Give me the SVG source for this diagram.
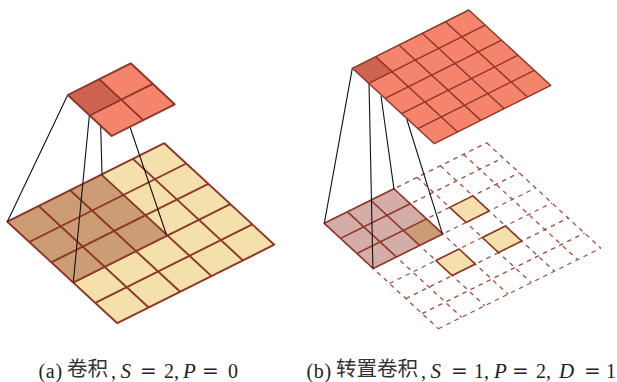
<svg xmlns="http://www.w3.org/2000/svg" width="617" height="382" viewBox="0 0 617 382">
<style>
.g{vector-effect:non-scaling-stroke;stroke:#8f3528;stroke-linejoin:round}
.n{fill:none}
.y{fill:#f3e0ab}
.s{stroke-width:1.9}
.m{stroke-width:1.6}
.t{stroke-width:1.4}
.d{stroke-width:1.3;stroke-dasharray:4.5 4.5;stroke:#a04f42}
.c{stroke:#111;stroke-width:1.1;fill:none}
text{font-family:"Liberation Serif",serif;font-size:20px;fill:#222}
.i{font-style:italic;font-size:21px}
.h{font-family:"Noto Sans CJK SC",sans-serif;font-size:20.5px;fill:#333}
.e{font-family:"DejaVu Serif",serif;font-size:20px}
</style>
<rect width="617" height="382" fill="#fff"/>
<g id="input-a" transform="matrix(31.4 -15.7 22 20.3 7.3 221.7)">
<path d="M0 0H5V5H0Z" fill="#f3e0ab"/>
<path d="M0 0H3V3H0Z" fill="#cc9c74"/>
<path class="g s n" d="M0 0H5V5H0ZM1 0V5M2 0V5M3 0V5M4 0V5M0 1H5M0 2H5M0 3H5M0 4H5"/>
</g>
<g id="input-b" transform="matrix(23.2 -11.51 16.3 15.06 324.3 223.3)">
<path class="g d n" d="M0 0H7M0 1H7M0 2H7M0 3H7M0 4H7M0 5H7M0 6H7M0 7H7M0 0V7M1 0V7M2 0V7M3 0V7M4 0V7M5 0V7M6 0V7M7 0V7"/>
<path d="M0 0H3V3H0Z" fill="#d4aca8"/>
<path d="M2 2H3V3H2Z" fill="#cc9c74"/>
<path class="g m n" d="M0 0H3V3H0ZM1 0V3M2 0V3M0 1H3M0 2H3"/>
<path class="g m y" d="M4 2H5V3H4ZM4 4H5V5H4ZM2 4H3V5H2Z"/>
</g>
<g id="connectors">
<path class="c" d="M67.7 95L7.3 221.7M89.3 116L73.3 282.3M100.7 126L102 174.6M130 127L166.7 235.5"/>
<path class="c" d="M352.3 68.3L324.3 223.3M369 83L372.9 268.5M381 96L394 189.3M406.7 119L442.3 233.3"/>
</g>
<g id="output-a" transform="matrix(31.5 -15.85 22 20.5 67.7 95)">
<path d="M0 0H2V2H0Z" fill="#f4846b"/>
<path d="M0 0H1V1H0Z" fill="#cd6450"/>
<path class="g s n" d="M0 0H2V2H0ZM1 0V2M0 1H2"/>
</g>
<g id="output-b" transform="matrix(23.3 -11.66 16.4 15.08 352.3 68.3)">
<path d="M0 0H5V5H0Z" fill="#f4846b"/>
<path d="M0 0H1V1H0Z" fill="#cd6450"/>
<path class="g t n" d="M0 0H5V5H0ZM1 0V5M2 0V5M3 0V5M4 0V5M0 1H5M0 2H5M0 3H5M0 4H5"/>
</g>
<text id="caption-a" y="378"><tspan x="38.5" letter-spacing=".7">(a)</tspan><tspan class="h" x="67" y="376">卷积</tspan><tspan x="111" y="378">,</tspan><tspan class="i" x="120.5">S</tspan><tspan class="e" x="140">=</tspan><tspan x="164">2,</tspan><tspan class="i" x="183">P</tspan><tspan class="e" x="202">=</tspan><tspan x="228">0</tspan></text>
<text id="caption-b" y="378"><tspan x="306.5" letter-spacing=".7">(b)</tspan><tspan class="h" x="336" y="376">转置卷积</tspan><tspan x="421" y="378">,</tspan><tspan class="i" x="430.5">S</tspan><tspan class="e" x="451">=</tspan><tspan x="474">1,</tspan><tspan class="i" x="494">P</tspan><tspan class="e" x="512">=</tspan><tspan x="536">2,</tspan><tspan class="i" x="559">D</tspan><tspan class="e" x="584">=</tspan><tspan x="606">1</tspan></text>
</svg>
